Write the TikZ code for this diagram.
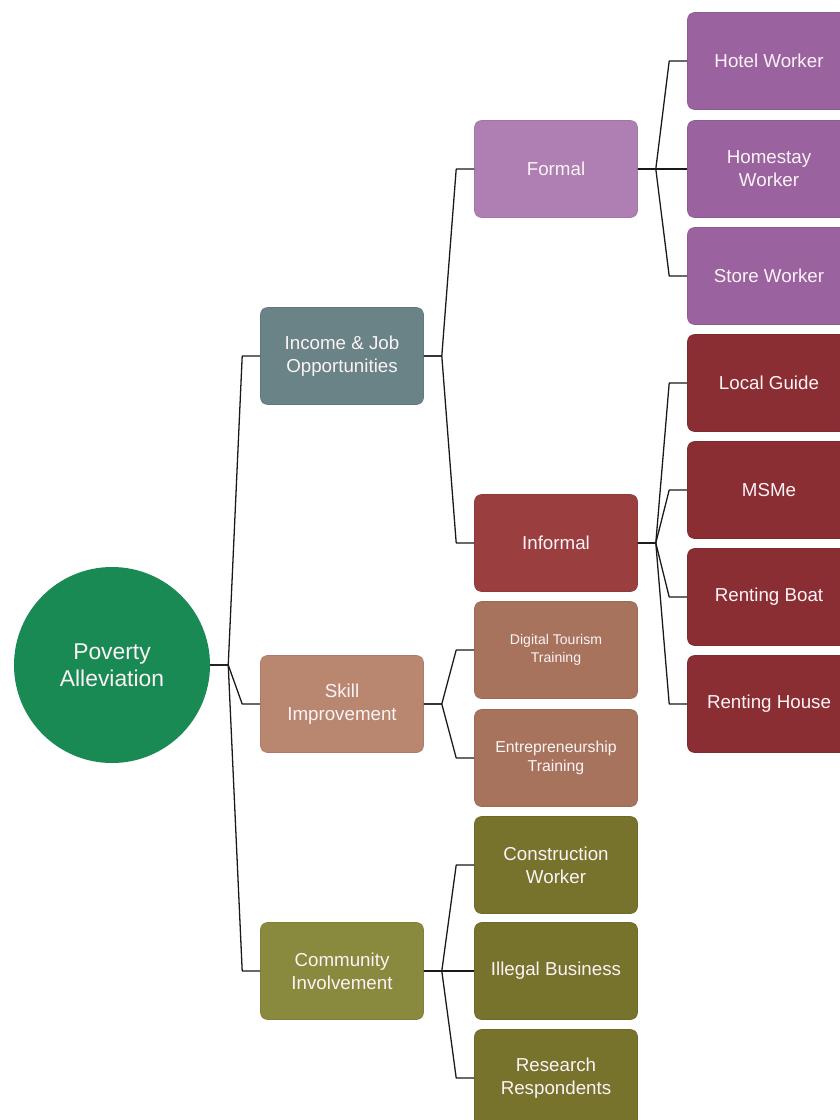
\documentclass[tikz,border=0pt]{standalone}
\usepackage{fontspec}
\setmainfont{Liberation Sans}
\definecolor{cRoot}{HTML}{1A8A55}
\definecolor{cInc}{HTML}{6A8387}
\definecolor{cSkill}{HTML}{B9866F}
\definecolor{cComm}{HTML}{8A8A3E}
\definecolor{cFormal}{HTML}{AF7FB3}
\definecolor{cPurp}{HTML}{9B62A0}
\definecolor{cInf}{HTML}{9A3E40}
\definecolor{cRed}{HTML}{8A2E33}
\definecolor{cTrain}{HTML}{A8735C}
\definecolor{cOlive}{HTML}{77722C}
\definecolor{cText}{HTML}{FBF3F6}
\newcommand\linkto[2]{\draw[link] (#1.east) -- ++(18,0) -- ([xshift=-0.54cm]#2.west) -- (#2.west);}
\begin{document}
\begin{tikzpicture}[x=0.03cm,y=-0.03cm,
  box/.style={rounded corners=6pt, minimum width=4.89cm, minimum height=2.91cm, inner sep=2pt, align=center, text=cText, fill=#1, draw=#1!92!black, line width=0.5pt, font=\fontsize{16}{19.5}\selectfont},
  link/.style={draw=black!90, line width=1.1pt, line join=round}]
\useasboundingbox (0,0) rectangle (840,1120);
\clip (0,0) rectangle (840,1120);
\node[circle, fill=cRoot, minimum size=5.88cm, inner sep=0pt, text=cText, align=center, font=\fontsize{19.5}{23}\selectfont] (root) at (112,665) {Poverty\\Alleviation};
% level 1
\node[box=cInc] (inc) at (342,356) {Income \& Job\\Opportunities};
\node[box=cSkill] (skill) at (342,704) {Skill\\Improvement};
\node[box=cComm] (comm) at (342,971) {Community\\Involvement};
% level 2
\node[box=cFormal] (formal) at (556,169) {Formal};
\node[box=cInf] (informal) at (556,543) {Informal};
\node[box=cTrain, font=\fontsize{12}{15}\selectfont] (digital) at (556,650) {Digital Tourism\\Training};
\node[box=cTrain, font=\fontsize{13.5}{16.5}\selectfont] (entre) at (556,758) {Entrepreneurship\\Training};
\node[box=cOlive] (constr) at (556,865) {Construction\\Worker};
\node[box=cOlive] (illegal) at (556,971) {Illegal Business};
\node[box=cOlive] (research) at (556,1078) {Research\\Respondents};
% level 3
\node[box=cPurp] (hotel) at (769,61) {Hotel Worker};
\node[box=cPurp] (homestay) at (769,169) {Homestay\\Worker};
\node[box=cPurp] (store) at (769,276) {Store Worker};
\node[box=cRed] (guide) at (769,383) {Local Guide};
\node[box=cRed] (msme) at (769,490) {MSMe};
\node[box=cRed] (boat) at (769,597) {Renting Boat};
\node[box=cRed] (house) at (769,704) {Renting House};
% connectors
\foreach \p/\c in {root/inc, root/skill, root/comm,
  inc/formal, inc/informal, skill/digital, skill/entre,
  comm/constr, comm/illegal, comm/research,
  formal/hotel, formal/homestay, formal/store,
  informal/guide, informal/msme, informal/boat, informal/house}
  {\linkto{\p}{\c}}
\end{tikzpicture}
\end{document}
